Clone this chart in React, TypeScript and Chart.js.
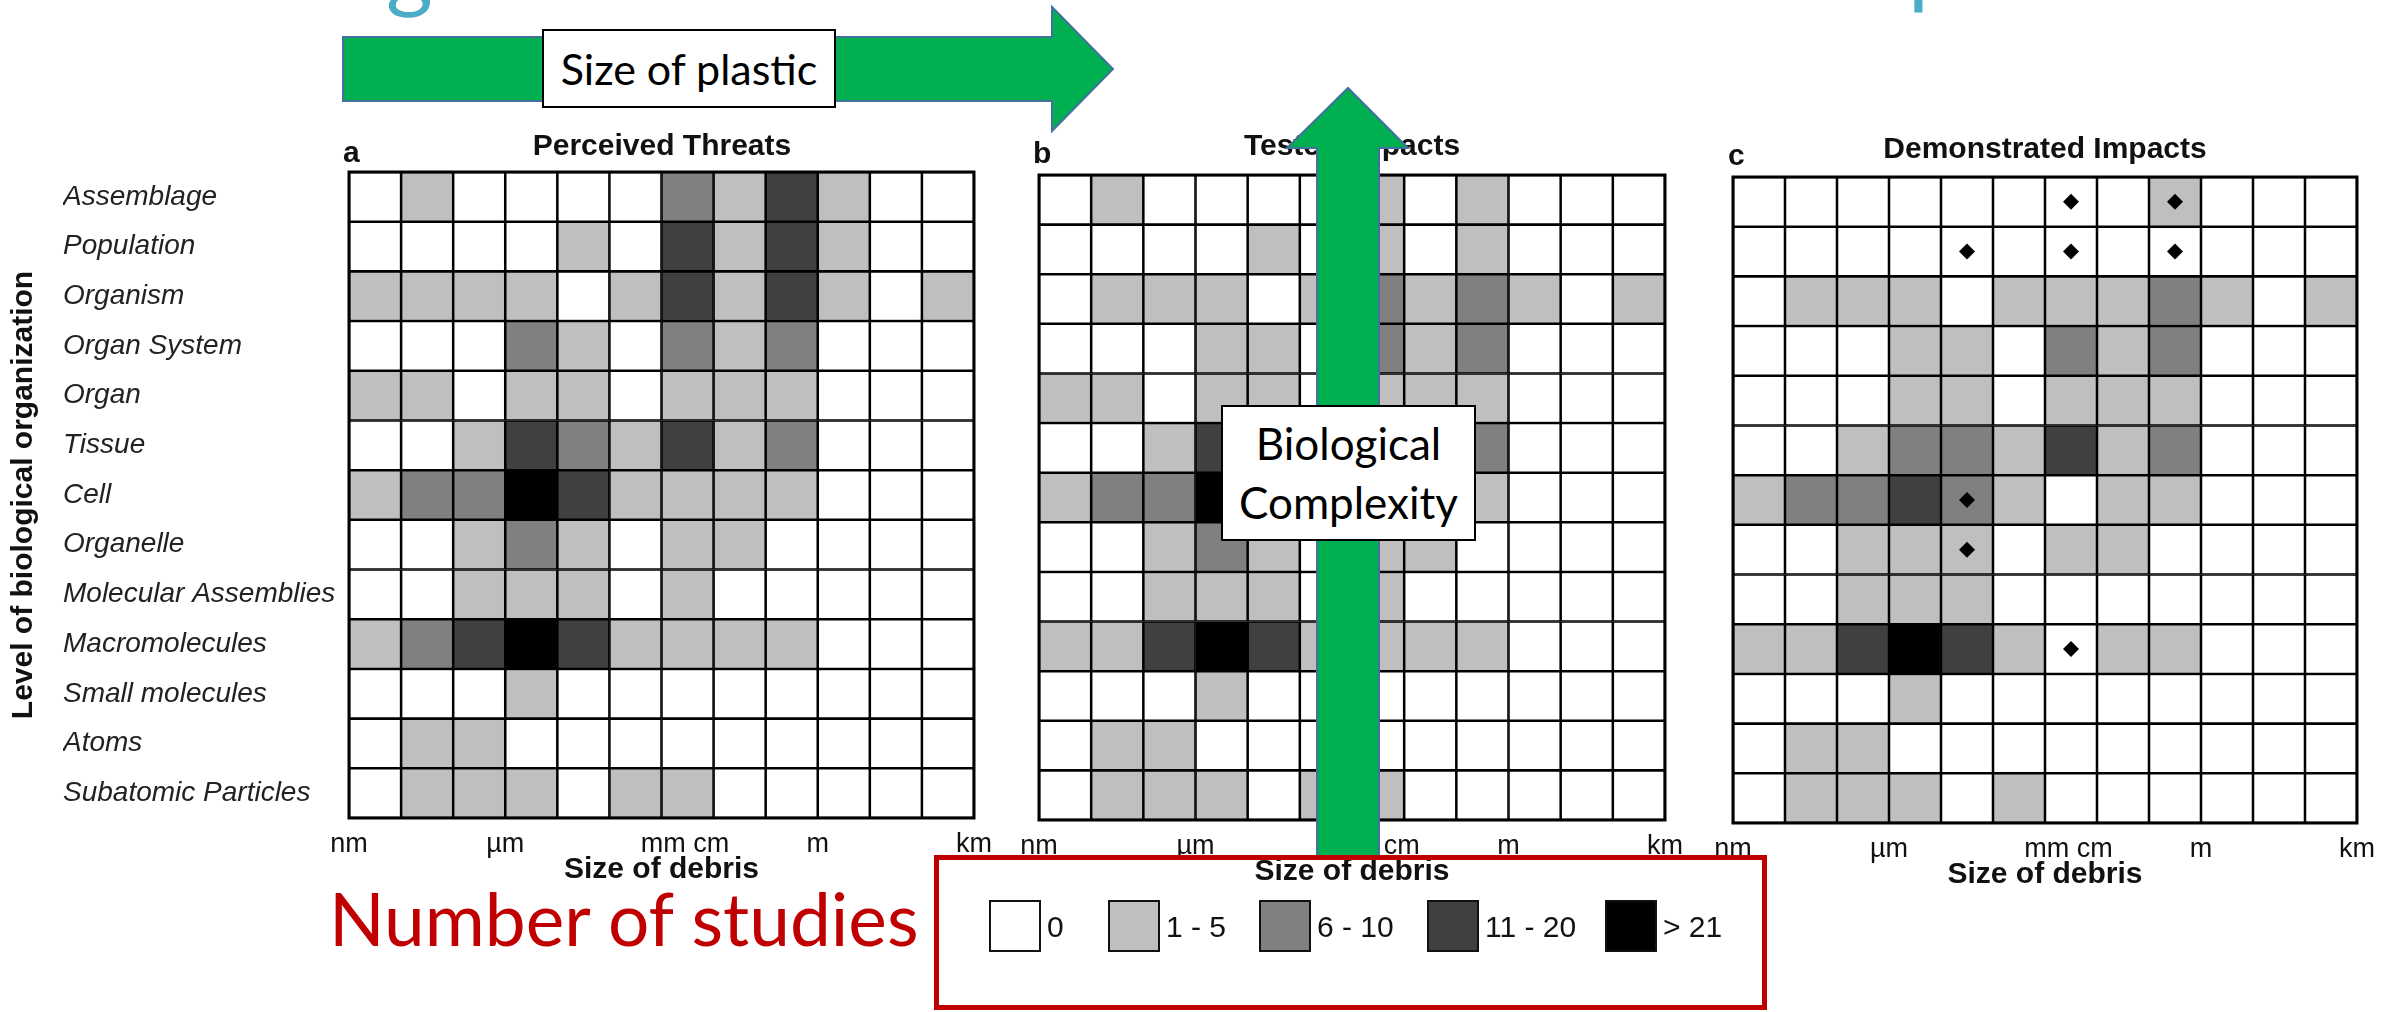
import React, { useEffect, useRef } from 'react';
import { Chart, registerables } from 'chart.js';

Chart.register(...registerables);

// ---------------- data ----------------
const organizationLevels = [
  'Assemblage',
  'Population',
  'Organism',
  'Organ System',
  'Organ',
  'Tissue',
  'Cell',
  'Organelle',
  'Molecular Assemblies',
  'Macromolecules',
  'Small molecules',
  'Atoms',
  'Subatomic Particles',
];

const sizeBinCount = 12;
const sizeTickValues = [0, 3, 6.45, 9, 12];
const sizeTickLabels = ['nm', 'µm', 'mm cm', 'm', 'km'];

// study-count classes: 0 = "0", 1 = "1 - 5", 2 = "6 - 10", 3 = "11 - 20", 4 = "> 21"
const studyClassLabels = ['0', '1 - 5', '6 - 10', '11 - 20', '> 21'];
const studyClassColors = ['#ffffff', '#bfbfbf', '#808080', '#404040', '#000000'];

const perceivedThreats = [
  [0, 1, 0, 0, 0, 0, 2, 1, 3, 1, 0, 0],
  [0, 0, 0, 0, 1, 0, 3, 1, 3, 1, 0, 0],
  [1, 1, 1, 1, 0, 1, 3, 1, 3, 1, 0, 1],
  [0, 0, 0, 2, 1, 0, 2, 1, 2, 0, 0, 0],
  [1, 1, 0, 1, 1, 0, 1, 1, 1, 0, 0, 0],
  [0, 0, 1, 3, 2, 1, 3, 1, 2, 0, 0, 0],
  [1, 2, 2, 4, 3, 1, 1, 1, 1, 0, 0, 0],
  [0, 0, 1, 2, 1, 0, 1, 1, 0, 0, 0, 0],
  [0, 0, 1, 1, 1, 0, 1, 0, 0, 0, 0, 0],
  [1, 2, 3, 4, 3, 1, 1, 1, 1, 0, 0, 0],
  [0, 0, 0, 1, 0, 0, 0, 0, 0, 0, 0, 0],
  [0, 1, 1, 0, 0, 0, 0, 0, 0, 0, 0, 0],
  [0, 1, 1, 1, 0, 1, 1, 0, 0, 0, 0, 0],
];

const testedImpacts = [
  [0, 1, 0, 0, 0, 0, 1, 0, 1, 0, 0, 0],
  [0, 0, 0, 0, 1, 0, 1, 0, 1, 0, 0, 0],
  [0, 1, 1, 1, 0, 1, 2, 1, 2, 1, 0, 1],
  [0, 0, 0, 1, 1, 0, 2, 1, 2, 0, 0, 0],
  [1, 1, 0, 1, 1, 0, 1, 1, 1, 0, 0, 0],
  [0, 0, 1, 3, 2, 1, 3, 1, 2, 0, 0, 0],
  [1, 2, 2, 4, 3, 1, 1, 1, 1, 0, 0, 0],
  [0, 0, 1, 2, 1, 0, 1, 1, 0, 0, 0, 0],
  [0, 0, 1, 1, 1, 0, 1, 0, 0, 0, 0, 0],
  [1, 1, 3, 4, 3, 1, 1, 1, 1, 0, 0, 0],
  [0, 0, 0, 1, 0, 0, 0, 0, 0, 0, 0, 0],
  [0, 1, 1, 0, 0, 0, 0, 0, 0, 0, 0, 0],
  [0, 1, 1, 1, 0, 1, 1, 0, 0, 0, 0, 0],
];

const demonstratedImpacts = [
  [0, 0, 0, 0, 0, 0, 0, 0, 1, 0, 0, 0],
  [0, 0, 0, 0, 0, 0, 0, 0, 0, 0, 0, 0],
  [0, 1, 1, 1, 0, 1, 1, 1, 2, 1, 0, 1],
  [0, 0, 0, 1, 1, 0, 2, 1, 2, 0, 0, 0],
  [0, 0, 0, 1, 1, 0, 1, 1, 1, 0, 0, 0],
  [0, 0, 1, 2, 2, 1, 3, 1, 2, 0, 0, 0],
  [1, 2, 2, 3, 2, 1, 0, 1, 1, 0, 0, 0],
  [0, 0, 1, 1, 1, 0, 1, 1, 0, 0, 0, 0],
  [0, 0, 1, 1, 1, 0, 0, 0, 0, 0, 0, 0],
  [1, 1, 3, 4, 3, 1, 0, 1, 1, 0, 0, 0],
  [0, 0, 0, 1, 0, 0, 0, 0, 0, 0, 0, 0],
  [0, 1, 1, 0, 0, 0, 0, 0, 0, 0, 0, 0],
  [0, 1, 1, 1, 0, 1, 0, 0, 0, 0, 0, 0],
];

// diamond markers in panel c: level + size bin
const demonstratedMarkerLevels = ['Assemblage', 'Assemblage', 'Population', 'Population', 'Population', 'Cell', 'Organelle', 'Macromolecules'];
const demonstratedMarkerBins = [6, 8, 4, 6, 8, 4, 4, 6];

const panelLetters = ['a', 'b', 'c'];
const panelTitles = ['Perceived Threats', 'Tested Impacts', 'Demonstrated Impacts'];

// ---------------- chart helpers ----------------
const FIG_FONT = '"Liberation Sans", Arial, sans-serif';
const SLIDE_FONT = 'Lato, "Open Sans", sans-serif';

const gridOutline = {
  id: 'gridOutline',
  afterDatasetsDraw(chart: any) {
    const { ctx, chartArea: a } = chart;
    ctx.save();
    ctx.strokeStyle = '#000';
    ctx.lineWidth = 3;
    ctx.strokeRect(a.left, a.top, a.right - a.left, a.bottom - a.top);
    ctx.restore();
  },
};

function buildDatasets(matrix: number[][], markerLevels: string[], markerBins: number[]) {
  const bins = Array.from({ length: sizeBinCount }, (_, j) => j);
  const sets: any[] = bins.map((j) => ({
    type: 'bar',
    data: organizationLevels.map(() => [j, j + 1]),
    backgroundColor: organizationLevels.map((_, r) => studyClassColors[matrix[r][j]]),
    borderColor: '#000',
    borderWidth: 1.6,
    borderSkipped: false,
    grouped: false,
    barPercentage: 1,
    categoryPercentage: 1,
    xAxisID: 'x',
    yAxisID: 'y',
    order: 1,
  }));
  if (markerLevels.length) {
    sets.push({
      type: 'scatter',
      data: markerLevels.map((lvl, i) => ({ x: markerBins[i] + 0.5, y: lvl })),
      pointStyle: 'rectRot',
      pointRadius: 8,
      backgroundColor: '#000',
      borderColor: '#000',
      borderWidth: 0,
      xAxisID: 'x',
      yAxisID: 'y',
      order: 0,
    });
  }
  return sets;
}

type PanelProps = {
  matrix: number[][];
  markerLevels?: string[];
  markerBins?: number[];
  left: number;
  width: number;
  padding: { top: number; right: number; bottom: number; left: number };
  showY: boolean;
  yAxisWidth?: number;
};

function HeatmapPanel({ matrix, markerLevels = [], markerBins = [], left, width, padding, showY, yAxisWidth = 0 }: PanelProps) {
  const ref = useRef<HTMLCanvasElement | null>(null);
  useEffect(() => {
    if (!ref.current) return;
    const chart = new Chart(ref.current, {
      type: 'bar',
      data: { labels: organizationLevels, datasets: buildDatasets(matrix, markerLevels, markerBins) as any },
      options: {
        indexAxis: 'y',
        responsive: false,
        animation: false,
        events: [],
        layout: { padding },
        plugins: { legend: { display: false }, tooltip: { enabled: false }, title: { display: false } },
        scales: {
          x: {
            type: 'linear',
            min: 0,
            max: sizeBinCount,
            grid: { display: false },
            border: { display: false },
            afterBuildTicks: (s: any) => {
              s.ticks = sizeTickValues.map((v) => ({ value: v }));
            },
            afterFit: (s: any) => {
              s.height = 80;
            },
            ticks: {
              autoSkip: false,
              maxRotation: 0,
              minRotation: 0,
              padding: 2,
              color: '#111',
              font: { family: FIG_FONT, size: 27 },
              callback: (_v: any, i: number) => sizeTickLabels[i] ?? '',
            },
            title: {
              display: true,
              text: 'Size of debris',
              color: '#111',
              font: { family: FIG_FONT, size: 30, weight: 'bold' },
              padding: { top: 0, bottom: 10 },
            },
          } as any,
          y: {
            type: 'category',
            display: showY,
            offset: true,
            grid: { display: false },
            border: { display: false },
            afterFit: showY
              ? (s: any) => {
                  s.width = yAxisWidth;
                }
              : undefined,
            ticks: {
              autoSkip: false,
              crossAlign: 'far',
              padding: 12,
              color: '#222',
              font: { family: FIG_FONT, size: 28, style: 'italic' },
            },
            title: { display: false },
          } as any,
        },
      },
      plugins: [gridOutline],
    } as any);
    return () => chart.destroy();
  }, []);
  return (
    <canvas
      ref={ref}
      width={width}
      height={1012}
      style={{ position: 'absolute', left, top: 0, width, height: 1012 }}
    />
  );
}

// ---------------- layout constants (styling only) ----------------
const titleCenters = [662, 1352, 2045];
const titleTops = [127, 127, 130];
const letterLefts = [343, 1033, 1728];
const letterTops = [134, 135, 137];
const legendSwatchLefts = [989, 1108, 1259, 1427, 1605];

export default function App() {
  useEffect(() => {
    document.body.style.margin = '0';
  }, []);

  const abs: React.CSSProperties = { position: 'absolute' };

  return (
    <div
      style={{
        position: 'relative',
        width: 2397,
        height: 1012,
        overflow: 'hidden',
        background: '#fff',
        fontFamily: FIG_FONT,
      }}
    >
      <HeatmapPanel
        matrix={perceivedThreats}
        left={0}
        width={1000}
        padding={{ top: 172, right: 26, bottom: 114, left: 63 }}
        showY={true}
        yAxisWidth={286}
      />
      <HeatmapPanel
        matrix={testedImpacts}
        left={1005}
        width={690}
        padding={{ top: 175, right: 30, bottom: 112, left: 34 }}
        showY={false}
      />
      <HeatmapPanel
        matrix={demonstratedImpacts}
        markerLevels={demonstratedMarkerLevels}
        markerBins={demonstratedMarkerBins}
        left={1700}
        width={697}
        padding={{ top: 177, right: 40, bottom: 109, left: 33 }}
        showY={false}
      />

      {/* y-axis title of panel a */}
      <div
        style={{
          ...abs,
          left: 23 - 350,
          top: 495 - 18,
          width: 700,
          height: 36,
          lineHeight: '36px',
          textAlign: 'center',
          font: `bold 30px ${FIG_FONT}`,
          color: '#111',
          transform: 'rotate(-90deg)',
          transformOrigin: '50% 50%',
          whiteSpace: 'nowrap',
        }}
      >
        Level of biological organization
      </div>

      {panelTitles.map((t, i) => (
        <div
          key={t}
          style={{
            ...abs,
            left: titleCenters[i] - 300,
            width: 600,
            top: titleTops[i],
            textAlign: 'center',
            font: `bold 30px ${FIG_FONT}`,
            lineHeight: '36px',
            color: '#111',
          }}
        >
          {t}
        </div>
      ))}
      {panelLetters.map((l, i) => (
        <div
          key={l}
          style={{ ...abs, left: letterLefts[i], top: letterTops[i], font: `bold 30px ${FIG_FONT}`, lineHeight: '36px', color: '#111' }}
        >
          {l}
        </div>
      ))}

      {/* cut-off slide title (only descenders visible) */}
      <div style={{ ...abs, left: 386, top: -79, font: `90px ${SLIDE_FONT}`, lineHeight: '90px', color: '#4bacc6' }}>g</div>
      <div style={{ ...abs, left: 1908, top: -83, font: `90px ${SLIDE_FONT}`, lineHeight: '90px', color: '#4bacc6' }}>p</div>

      {/* annotation arrows */}
      <svg width={2397} height={1012} style={{ ...abs, left: 0, top: 0 }}>
        <polygon
          points="343,37 1052,37 1052,7 1113,69 1052,131 1052,101 343,101"
          fill="#00b050"
          stroke="#41719c"
          strokeWidth={2}
        />
        <polygon
          points="1317,858 1317,148 1287,148 1348,88 1408,148 1379,148 1379,858"
          fill="#00b050"
          stroke="#41719c"
          strokeWidth={2}
        />
      </svg>

      <div
        style={{
          ...abs,
          left: 542,
          top: 29,
          width: 294,
          height: 79,
          boxSizing: 'border-box',
          border: '2px solid #000',
          background: '#fff',
          display: 'flex',
          alignItems: 'center',
          justifyContent: 'center',
          font: `43px ${SLIDE_FONT}`,
          color: '#000',
        }}
      >
        Size of plastic
      </div>

      <div
        style={{
          ...abs,
          left: 1221,
          top: 405,
          width: 255,
          height: 136,
          boxSizing: 'border-box',
          border: '2px solid #000',
          background: '#fff',
          display: 'flex',
          flexDirection: 'column',
          alignItems: 'center',
          justifyContent: 'center',
          font: `44px ${SLIDE_FONT}`,
          lineHeight: '59px',
          color: '#000',
          textAlign: 'center',
        }}
      >
        <div>Biological</div>
        <div>Complexity</div>
      </div>

      {/* red frame around the legend */}
      <div
        style={{
          ...abs,
          left: 934,
          top: 855,
          width: 833,
          height: 155,
          boxSizing: 'border-box',
          border: '5px solid #c00000',
        }}
      />

      {/* legend: number of studies */}
      {studyClassLabels.map((lab, i) => (
        <React.Fragment key={lab}>
          <div
            style={{
              ...abs,
              left: legendSwatchLefts[i],
              top: 900,
              width: 52,
              height: 52,
              boxSizing: 'border-box',
              border: '2px solid #111',
              background: studyClassColors[i],
            }}
          />
          <div
            style={{
              ...abs,
              left: legendSwatchLefts[i] + 58,
              top: 909,
              font: `30px ${FIG_FONT}`,
              lineHeight: '36px',
              color: '#111',
              whiteSpace: 'nowrap',
            }}
          >
            {lab}
          </div>
        </React.Fragment>
      ))}

      <div
        style={{
          ...abs,
          left: 329,
          top: 882,
          font: `73px ${SLIDE_FONT}`,
          lineHeight: '73px',
          color: '#c00000',
          whiteSpace: 'nowrap',
        }}
      >
        Number of studies
      </div>
    </div>
  );
}
